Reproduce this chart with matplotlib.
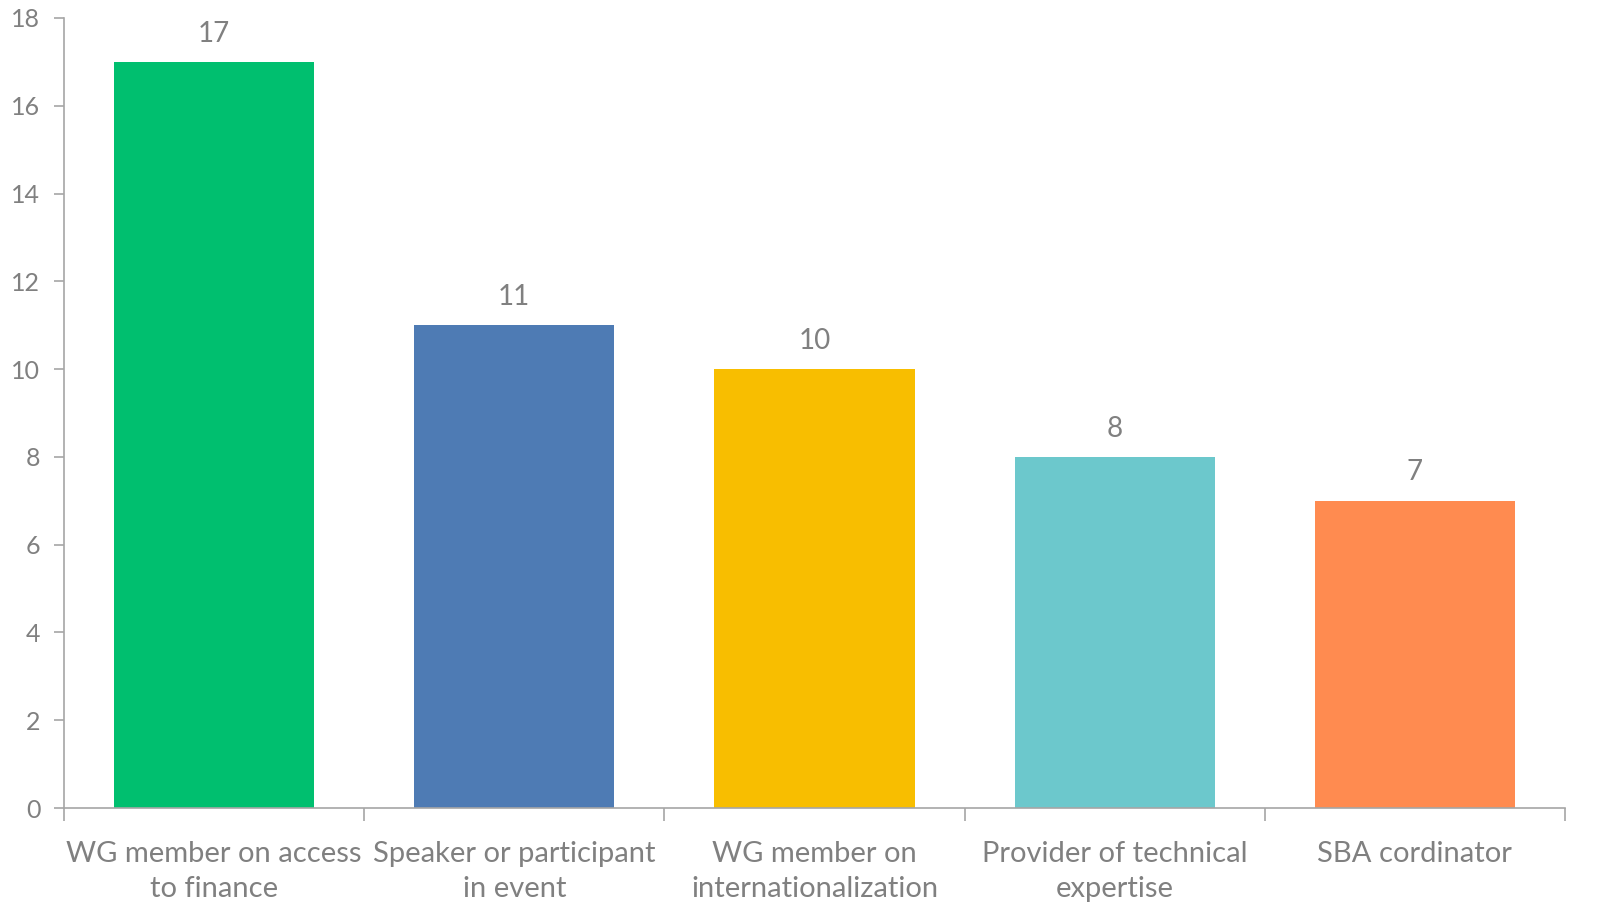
import matplotlib
matplotlib.use("Agg")
import matplotlib.pyplot as plt
import numpy as np

# Données du graphique
categories = ["WG member on access\nto finance", "Speaker or participant\nin event",
              "WG member on\ninternationalization", "Provider of technical\nexpertise",
              "SBA cordinator"]
values = [17, 11, 10, 8, 7]
colors = ["#00BF6F", "#4E7BB4", "#F8BE00", "#6CC8CC", "#FF8B50"]
yticks = [0, 2, 4, 6, 8, 10, 12, 14, 16, 18]

text_color = "#808080"
axis_color = "#A6A6A6"

plt.rcParams['font.family'] = ['Lato', 'DejaVu Sans']

fig = plt.figure(figsize=(15.97, 9.23), dpi=100)
ax = fig.add_axes([64 / 1597, 115 / 923, (1565 - 64) / 1597, (808 - 18) / 923])

x = np.arange(len(categories))
bars = ax.bar(x, values, width=0.667, color=colors, zorder=2)

for xi, v in zip(x, values):
    ax.text(xi, v + 0.35, str(v), ha='center', va='bottom', fontsize=20, color=text_color)

ax.set_xlim(-0.5, len(categories) - 0.5)
ax.set_ylim(0, 18)
ax.set_yticks(yticks)
ax.set_yticklabels([str(t) for t in yticks], fontsize=18, color=text_color)

# Libellés des catégories sans tick, ticks aux séparations
ax.set_xticks(x)
ax.set_xticklabels(categories, fontsize=21, color=text_color, linespacing=1.4)
ax.tick_params(axis='x', which='major', length=0, pad=24)
ax.set_xticks(np.arange(-0.5, len(categories)), minor=True)
ax.tick_params(axis='x', which='minor', length=9, width=1.2, color=axis_color, direction='out')
ax.tick_params(axis='y', length=7, width=1.2, color=axis_color, direction='out', pad=10)

for side in ['top', 'right']:
    ax.spines[side].set_visible(False)
for side in ['left', 'bottom']:
    ax.spines[side].set_color(axis_color)
    ax.spines[side].set_linewidth(1.2)

fig.savefig("out.png", dpi=100)
